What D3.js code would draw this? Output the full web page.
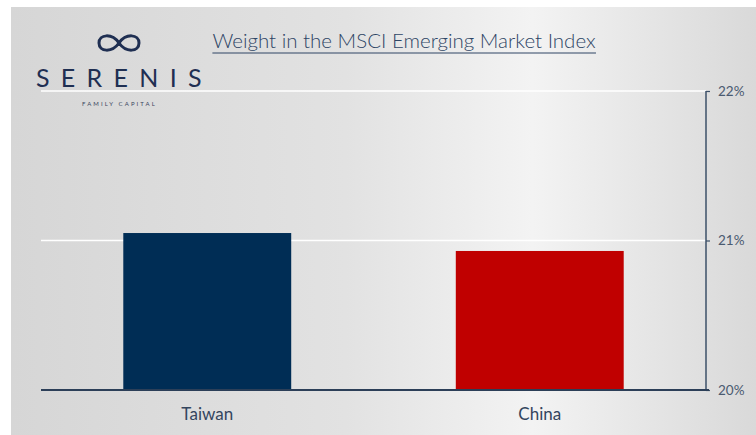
<!DOCTYPE html>
<html><head><meta charset="utf-8">
<script src="https://cdn.jsdelivr.net/npm/d3@7"></script>
<style>html,body{margin:0;padding:0;background:#fff;}svg{display:block;}</style>
</head><body>
<script>
const categories = ["Taiwan", "China"];
const weights = [21.05, 20.93];
const yTicks = [20, 21, 22];
const tickLabels = ["20%", "21%", "22%"];
const barColors = ["#002d55", "#c00000"];
const title = "Weight in the MSCI Emerging Market Index";

const W = 756, H = 435;
const svg = d3.select("body").append("svg").attr("width", W).attr("height", H);
const defs = svg.append("defs");
const g = defs.append("linearGradient").attr("id","bg").attr("x1","0").attr("x2","1").attr("y1","0").attr("y2","0");
[[0,"#d6d6d6"],[0.45,"#e2e2e2"],[0.7,"#f3f3f3"],[0.85,"#e6e6e6"],[1,"#d9d9d9"]].forEach(([o,c])=>g.append("stop").attr("offset",o).attr("stop-color",c));
svg.append("rect").attr("x",11).attr("y",7).attr("width",W-11).attr("height",H-7).attr("fill","url(#bg)");

const font = "Lato, 'Open Sans', sans-serif";
const x = d3.scaleBand().domain(categories).range([41, 706]).paddingInner(0.495).paddingOuter(0.2475);
const y = d3.scaleLinear().domain([20, 22]).range([390, 91]);

// gridlines
svg.append("g").selectAll("line").data(yTicks.slice(1)).join("line")
  .attr("x1",41).attr("x2",706).attr("y1",d=>y(d)).attr("y2",d=>y(d))
  .attr("stroke","#ffffff").attr("stroke-width",1.5);

// bars
svg.append("g").selectAll("rect").data(categories).join("rect")
  .attr("x",d=>x(d)).attr("width",x.bandwidth())
  .attr("y",(d,i)=>y(weights[i])).attr("height",(d,i)=>y(20)-y(weights[i]))
  .attr("fill",(d,i)=>barColors[i]);

// right axis
const axis = d3.axisRight(y).tickValues(yTicks).tickFormat((d,i)=>tickLabels[i]).tickSize(4).tickPadding(8);
const ag = svg.append("g").attr("transform","translate(706,0)").call(axis);
ag.select(".domain").attr("stroke","#3d5068").attr("stroke-width",1.5).attr("d","M0,"+y(22)+"V"+y(20));
ag.selectAll(".tick line").attr("stroke","#3d5068").attr("stroke-width",1.2);
ag.selectAll(".tick text").attr("fill","#4a5a70").attr("font-family",font).attr("font-size",13.5);

// baseline
svg.append("line").attr("x1",41).attr("x2",709).attr("y1",y(20)).attr("y2",y(20))
  .attr("stroke","#2c3f58").attr("stroke-width",2);

// category labels
svg.append("g").selectAll("text").data(categories).join("text")
  .attr("x",d=>x(d)+x.bandwidth()/2).attr("y",420).attr("text-anchor","middle")
  .attr("fill","#33455e").attr("font-family",font).attr("font-size",17).text(d=>d);

// title
const t = svg.append("text").attr("x",404).attr("y",48).attr("text-anchor","middle")
  .attr("fill","#2e4565").attr("font-family",font).attr("font-weight",300).attr("font-size",20.5).text(title);
const bb = t.node().getBBox();
svg.append("line").attr("x1",bb.x).attr("x2",bb.x+bb.width).attr("y1",53).attr("y2",53)
  .attr("stroke","#2e4565").attr("stroke-width",1);

// logo
svg.append("path").attr("d","M119,43 C112,33 99,34 99,43 C99,52 112,53 119,43 C126,33 139,34 139,43 C139,52 126,53 119,43 Z")
  .attr("fill","none").attr("stroke","#1f2f52").attr("stroke-width",3);
svg.append("text").attr("x",36).attr("y",87).attr("fill","#1f2f52").attr("font-family",font)
  .attr("font-size",25).attr("letter-spacing",11.3).text("SERENIS");
svg.append("text").attr("x",82).attr("y",106).attr("fill","#3a4660").attr("font-family",font)
  .attr("font-size",6).attr("letter-spacing",2.1).text("FAMILY CAPITAL");
</script>
</body></html>
